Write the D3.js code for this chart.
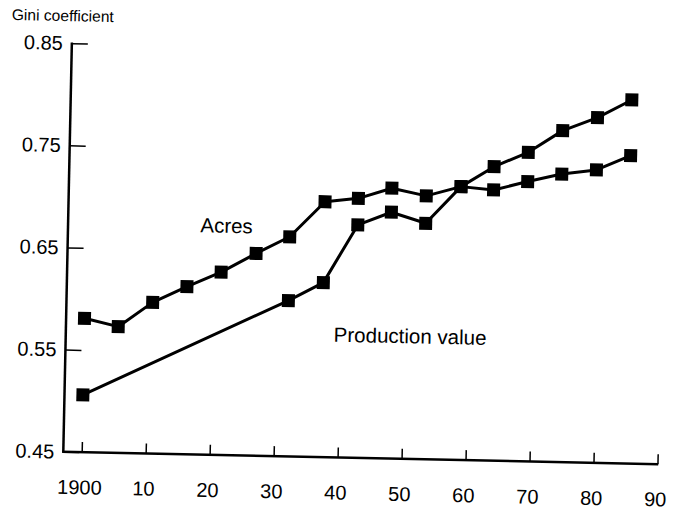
<!DOCTYPE html>
<html>
<head>
<meta charset="utf-8">
<script src="https://cdn.jsdelivr.net/npm/d3@7"></script>
<style>
  html, body { margin: 0; padding: 0; background: #fff; }
  svg { display: block; }
  text { font-family: "Liberation Sans", Arial, Helvetica, sans-serif; fill: #000; }
</style>
</head>
<body>
<svg id="chart" width="676" height="512"></svg>
<script>
// ---- data ----
const years = [1900, 1905.3, 1910.6, 1915.9, 1921.2, 1926.6, 1931.8, 1937.2, 1942.4, 1947.6,
               1953.0, 1958.4, 1963.5, 1968.8, 1974.1, 1979.5, 1984.8];
const acres = [0.581, 0.5735, 0.598, 0.614, 0.629, 0.648, 0.665, 0.700, 0.704, 0.7146,
               0.7078, 0.7176, 0.715, 0.7239, 0.732, 0.7367, 0.7514];
const productionValue = [0.506, null, null, null, null, null, 0.6025, 0.6208, 0.678, 0.6911,
                         0.681, 0.7176, 0.7378, 0.7526, 0.7745, 0.7879, 0.8059];
const xTicks = [1900, 1910, 1920, 1930, 1940, 1950, 1960, 1970, 1980, 1990];
const xTickLabels = ["1900", "10", "20", "30", "40", "50", "60", "70", "80", "90"];
const yTicks = [0.45, 0.55, 0.65, 0.75, 0.85];
const yTickLabels = ["0.45", "0.55", "0.65", "0.75", "0.85"];
const yTitle = "Gini coefficient";
const seriesLabels = [
  { text: "Acres", year: 1917.8, value: 0.6676 },
  { text: "Production value", year: 1939.0, value: 0.5632 }
];

// ---- layout ----
const svg = d3.select("#chart");
svg.append("rect").attr("width", 676).attr("height", 512).attr("fill", "#fff");

const g = svg.append("g").attr("transform", "translate(63.3,451.7) rotate(1.2)");

const x = d3.scaleLinear().domain([1900, 1990]).range([18.4, 594.3]);
const y = d3.scaleLinear().domain([0.45, 0.85]).range([0, -408.6]);

// x axis
const xAxis = d3.axisBottom(x)
  .tickValues(xTicks)
  .tickFormat((d, i) => xTickLabels[i])
  .tickSizeInner(-10).tickSizeOuter(0).tickPadding(28);
const xg = g.append("g").call(xAxis);
xg.select(".domain").remove();
xg.selectAll(".tick line").attr("stroke", "#000").attr("stroke-width", 1.5);
xg.selectAll(".tick text").attr("font-size", 20).attr("dx", -2).attr("fill", "#000")
  .style("font-family", "Liberation Sans, Arial, sans-serif");
g.append("line").attr("x1", -1).attr("x2", x(1990) + 0.75).attr("y1", 0).attr("y2", 0)
  .attr("stroke", "#000").attr("stroke-width", 2.5);

// y axis
const yAxis = d3.axisLeft(y)
  .tickValues(yTicks)
  .tickFormat((d, i) => yTickLabels[i])
  .tickSizeInner(-16).tickSizeOuter(0).tickPadding(9);
const yg = g.append("g").call(yAxis);
yg.select(".domain").remove();
yg.selectAll(".tick line").attr("stroke", "#000").attr("stroke-width", 1.5);
yg.selectAll(".tick text").attr("font-size", 20).attr("fill", "#000")
  .style("font-family", "Liberation Sans, Arial, sans-serif");
g.append("line").attr("x1", 0).attr("x2", 0).attr("y1", 1).attr("y2", y(0.85) - 0.75)
  .attr("stroke", "#000").attr("stroke-width", 2.5);

// y title
g.append("text").attr("x", -60.6).attr("y", -430.6)
  .attr("font-size", 15.6).text(yTitle);

// series
const line = d3.line().x(d => x(d.year)).y(d => y(d.value));
function draw(values) {
  const pts = years.map((yr, i) => ({ year: yr, value: values[i] })).filter(d => d.value != null);
  g.append("path").datum(pts).attr("d", line)
    .attr("fill", "none").attr("stroke", "#000").attr("stroke-width", 3)
    .attr("stroke-linejoin", "round");
  g.selectAll(null).data(pts).enter().append("rect")
    .attr("x", d => x(d.year) - 6.5).attr("y", d => y(d.value) - 6.5)
    .attr("width", 13).attr("height", 13).attr("fill", "#000");
}
draw(acres);
draw(productionValue);

// series labels
g.selectAll(null).data(seriesLabels).enter().append("text")
  .attr("x", d => x(d.year)).attr("y", d => y(d.value))
  .attr("font-size", 20.5).text(d => d.text);
</script>
</body>
</html>
